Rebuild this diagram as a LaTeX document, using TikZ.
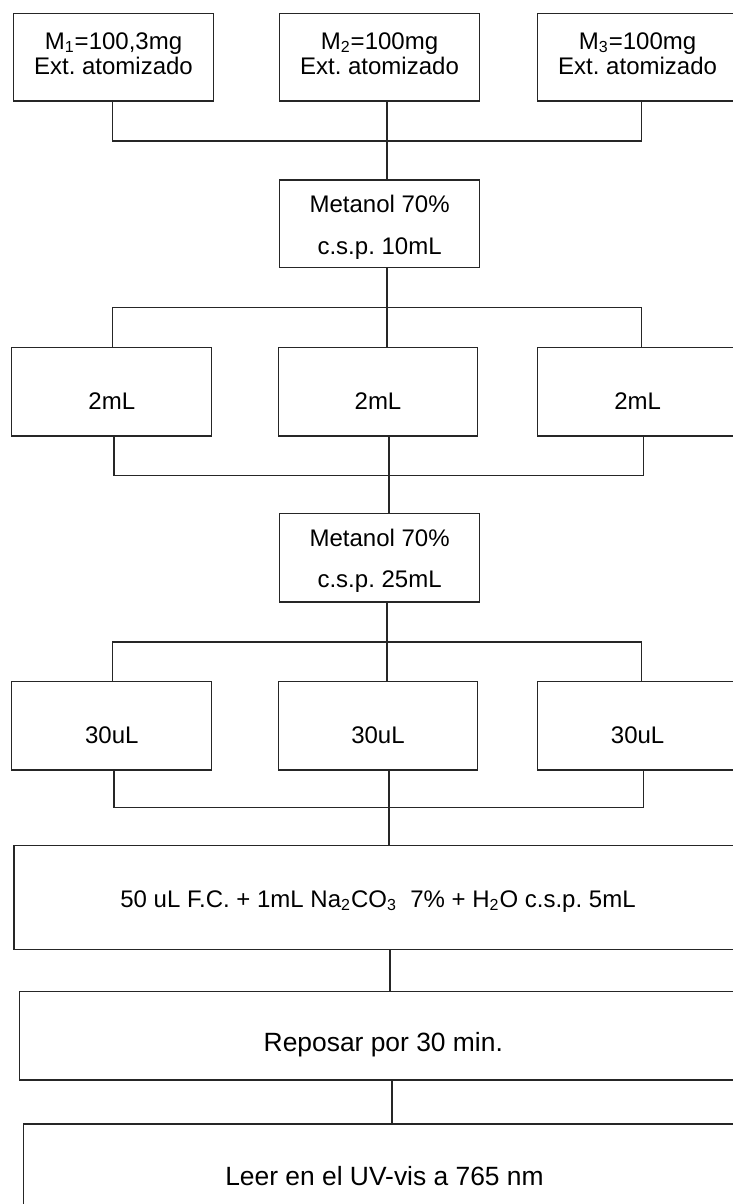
\documentclass[tikz,border=0pt]{standalone}
\usepackage{fontspec}
\setmainfont{Liberation Sans}
\frenchspacing
\tikzset{
  box/.style={draw=black!85, line width=0.65pt, inner sep=0pt, minimum width=100pt, minimum height=44pt},
  txt/.style={anchor=base, inner sep=0pt, font=\fontsize{12}{14}\selectfont},
  bigtxt/.style={anchor=base, inner sep=0pt, font=\fontsize{13.2}{16}\selectfont},
  conn/.style={draw=black!85, line width=0.65pt},
}
\begin{document}
\begin{tikzpicture}[x=0.5pt, y=-0.5pt]
\useasboundingbox (0,0) rectangle (733,1204);
\clip (0,0) rectangle (733,1204);

% ---- row A ----
\node[box, minimum height=43.8pt] (A1) at (113.5,57.2) {};
\node[box, minimum height=43.8pt] (A2) at (379.5,57.2) {};
\node[box, minimum height=43.8pt] (A3) at (637.6,57.2) {};
\node[txt] (A1a) at (113.5,49.3) {M\textsubscript{1}=100,3mg};
\node[txt] (A1b) at (113.5,74.5) {Ext. atomizado};
\node[txt] (A2a) at (379.5,49.3) {M\textsubscript{2}=100mg};
\node[txt] (A2b) at (379.5,74.5) {Ext. atomizado};
\node[txt] (A3a) at (637.6,49.3) {M\textsubscript{3}=100mg};
\node[txt] (A3b) at (637.6,74.5) {Ext. atomizado};

% ---- Metanol 1 ----
\node[box, minimum width=99.8pt, minimum height=43.65pt] (M1) at (379.6,223.7) {};
\node[txt] (M1a) at (379.6,212.7) {Metanol 70\%};
\node[txt] (M1b) at (379.6,254) {c.s.p. 10mL};

% ---- row B ----
\node[box, minimum height=44.3pt] (B1) at (111.8,391.8) {};
\node[box, minimum width=99.8pt, minimum height=44.3pt] (B2) at (378,391.8) {};
\node[box, minimum height=44.3pt] (B3) at (637.6,391.8) {};
\node[txt] (B1t) at (111.8,409) {2mL};
\node[txt] (B2t) at (378,409) {2mL};
\node[txt] (B3t) at (637.6,409) {2mL};

% ---- Metanol 2 ----
\node[box, minimum width=100pt, minimum height=44.15pt] (M2) at (379.6,557.85) {};
\node[txt] (M2a) at (379.6,546.6) {Metanol 70\%};
\node[txt] (M2b) at (379.6,587.9) {c.s.p. 25mL};

% ---- row C ----
\node[box, minimum height=44.15pt] (C1) at (111.8,725.85) {};
\node[box, minimum width=99.8pt, minimum height=44.15pt] (C2) at (378,725.85) {};
\node[box, minimum height=44.15pt] (C3) at (637.6,725.85) {};
\node[txt] (C1t) at (111.8,743.3) {30uL};
\node[txt] (C2t) at (378,743.3) {30uL};
\node[txt] (C3t) at (637.6,743.3) {30uL};

% ---- wide boxes ----
\node[box, minimum width=364pt, minimum height=51.8pt] (D1) at (378,897.5) {};
\node[txt] (D1t) at (378,907.3) {50 uL F.C. + 1mL Na\textsubscript{2}CO\textsubscript{3}\ \ 7\% + H\textsubscript{2}O c.s.p. 5mL};
\node[box, minimum width=363.7pt, minimum height=44.15pt] (D2) at (383.3,1035.85) {};
\node[bigtxt] (D2t) at (383.3,1051.7) {Reposar por 30 min.};
\node[box, minimum width=361.1pt, minimum height=44pt] (D3) at (384.5,1168) {};
\node[bigtxt] (D3t) at (384.5,1185) {Leer en el UV-vis a 765 nm};

% ---- junction coordinates ----
\coordinate (hA) at (0,141);
\coordinate (hB) at (0,307.7);
\coordinate (hC) at (0,475.7);
\coordinate (hD) at (0,642);
\coordinate (hE) at (0,807.3);
\coordinate (xL) at (112.5,0);
\coordinate (xM) at (387,0);
\coordinate (xR) at (641.4,0);
\coordinate (xL2) at (114,0);
\coordinate (xM2) at (389,0);
\coordinate (xR2) at (643.8,0);

% A -> M1
\draw[conn] (xL |- A1.south) -- (xL |- hA) -- (xR |- hA) -- (xR |- A3.south);
\draw[conn] (xM |- A2.south) -- (xM |- M1.north);
% M1 -> B
\draw[conn] (xM |- M1.south) -- (xM |- B2.north);
\draw[conn] (xL |- B1.north) -- (xL |- hB) -- (xR |- hB) -- (xR |- B3.north);
% B -> M2
\draw[conn] (xL2 |- B1.south) -- (xL2 |- hC) -- (xR2 |- hC) -- (xR2 |- B3.south);
\draw[conn] (xM2 |- B2.south) -- (xM2 |- M2.north);
% M2 -> C
\draw[conn] (xM |- M2.south) -- (xM |- C2.north);
\draw[conn] (xL |- C1.north) -- (xL |- hD) -- (xR |- hD) -- (xR |- C3.north);
% C -> D1
\draw[conn] (xL2 |- C1.south) -- (xL2 |- hE) -- (xR2 |- hE) -- (xR2 |- C3.south);
\draw[conn] (xM2 |- C2.south) -- (xM2 |- D1.north);
% D1 -> D2 -> D3
\coordinate (xD1) at (390,0);
\coordinate (xD2) at (392,0);
\draw[conn] (xD1 |- D1.south) -- (xD1 |- D2.north);
\draw[conn] (xD2 |- D2.south) -- (xD2 |- D3.north);
\end{tikzpicture}
\end{document}
